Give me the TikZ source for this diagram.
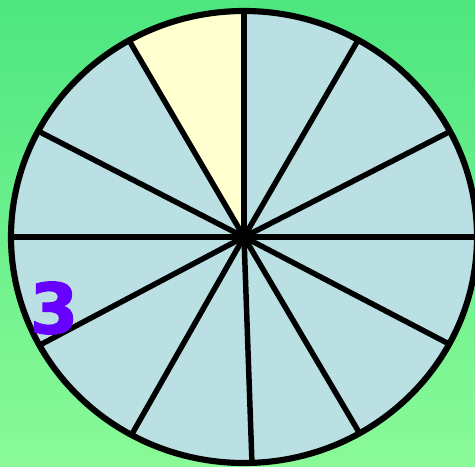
\documentclass[tikz,border=0pt]{standalone}
\usepackage{fontspec}
\newfontfamily\digitfont[BoldFeatures={FakeBold=2}]{DejaVu Sans}
\definecolor{bgtop}{RGB}{78,230,128}
\definecolor{bgbot}{RGB}{138,250,152}
\definecolor{sectorblue}{RGB}{186,224,227}
\definecolor{sectoryellow}{RGB}{255,255,208}
\definecolor{numpurple}{RGB}{102,0,255}
\begin{document}
\begin{tikzpicture}[x=0.75pt,y=-0.75pt,
  spoke/.style={draw=black,line width=4.1pt},
  rim/.style={draw=black,line width=4.6pt},
  numlabel/.style={font=\digitfont\bfseries\fontsize{52}{52}\selectfont,text=numpurple,inner sep=0pt}]
\useasboundingbox (0,0) rectangle (475,467);
\shade[top color=bgtop,bottom color=bgbot] (0,0) rectangle (475,467);
\coordinate (c) at (244,237);
\fill[sectorblue] (c) ellipse [x radius=233,y radius=226];
\begin{scope}
  \clip (c) ellipse [x radius=233,y radius=226];
  \fill[sectoryellow] (c) -- (244,-60) -- (73,-55) -- cycle;
\end{scope}
\coordinate (p90) at (244,10);
\coordinate (p60) at (357,42);
\coordinate (p30) at (451,131);
\coordinate (p0) at (480,237);
\coordinate (m30) at (451,345);
\coordinate (m60) at (360,434);
\coordinate (m90) at (252,464);
\coordinate (m120) at (132,434);
\coordinate (m150) at (38,346);
\coordinate (p180) at (10,237);
\coordinate (p150) at (38,131);
\coordinate (p120) at (130,42);
\foreach \p in {p90,p60,p30,p0,m30,m60,m90,m120,m150,p180,p150,p120}
  \draw[spoke] (c) -- (\p);
\draw[rim] (c) ellipse [x radius=233,y radius=226];
\node[numlabel] (three) at (54,308) {3};
\end{tikzpicture}
\end{document}
